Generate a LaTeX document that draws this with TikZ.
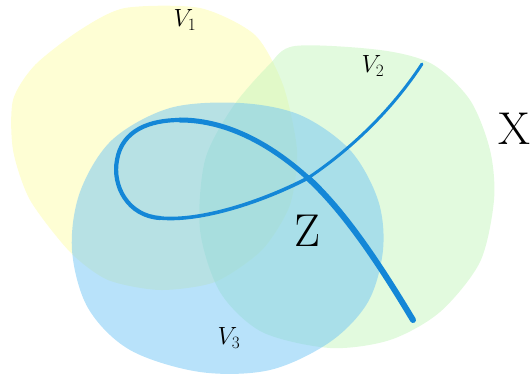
\documentclass[tikz,border=0pt]{standalone}
\usetikzlibrary{calc}

\definecolor{setyellow}{RGB}{253,253,169}
\definecolor{setgreen}{RGB}{197,245,189}
\definecolor{setblue}{RGB}{113,197,245}
\definecolor{curveblue}{RGB}{20,135,215}

\begin{document}
\begin{tikzpicture}[x=1pt, y=-1pt,
    every node/.style={inner sep=0pt},
    openset/.style={fill opacity=0.5, draw=none},
    curve/.style={curveblue, line cap=round, line join=round},
    setlabel/.style={font=\fontsize{25}{25}\selectfont},
    biglabel/.style={font=\fontsize{46}{46}\selectfont}]

\useasboundingbox (0,0) rectangle (531,379);

% =============================================================================
% Open sets
% =============================================================================
% V1
\fill[openset, setyellow] plot[smooth cycle, tension=0.45] coordinates {
    (13,100) (35,65) (80,30) (125,8) (200,8) (255,35) (283,85)
    (297,150) (290,205) (262,250) (215,282) (160,290) (108,280)
    (70,252) (30,200) (13,150)};

% V2
\fill[openset, setgreen] plot[smooth cycle, tension=0.5] coordinates {
    (200,230) (205,160) (232,108) (268,66) (295,46) (380,50) (432,64)
    (470,100) (490,150) (494,200) (480,262) (440,312) (390,340)
    (330,348) (262,332) (220,292)};

% V3
\fill[openset, setblue] plot[smooth cycle, tension=0.55] coordinates {
    (72,250) (80,192) (112,140) (170,108) (240,103) (300,115) (350,150)
    (378,200) (383,250) (368,302) (330,342) (270,370) (200,372)
    (130,350) (88,308)};

% =============================================================================
% Curve Z
% =============================================================================
\coordinate (top) at (422,64);
\coordinate (cross) at (308,178);
\coordinate (loopbottom) at (160,218);
\coordinate (loopleft) at (117,160);
\coordinate (looptop) at (180,120);
\coordinate (bottom) at (413,320);

\draw[curve, line width=3pt] (top) .. controls (392,110) and (350,150) .. (cross);
\draw[curve, line width=3.6pt] (cross) .. controls (262,202) and (200,222) .. (loopbottom);
\draw[curve, line width=4.2pt] (loopbottom) .. controls (128,216) and (112,186) .. (loopleft)
    .. controls (122,130) and (150,120) .. (looptop);
\draw[curve, line width=5pt] (looptop) .. controls (230,120) and (275,148) .. (cross);
\draw[curve, line width=6pt] (cross) .. controls (345,212) and (380,265) .. (bottom);

% =============================================================================
% Labels
% =============================================================================
\node[setlabel] (v1) at (185,20) {$V_1$};
\node[setlabel] (v2) at (373,66) {$V_2$};
\node[setlabel] (v3) at (229,338) {$V_3$};
\node[biglabel] (z) at (307,231) {Z};
\node[biglabel] (x) at (514,129) {X};

\end{tikzpicture}
\end{document}
